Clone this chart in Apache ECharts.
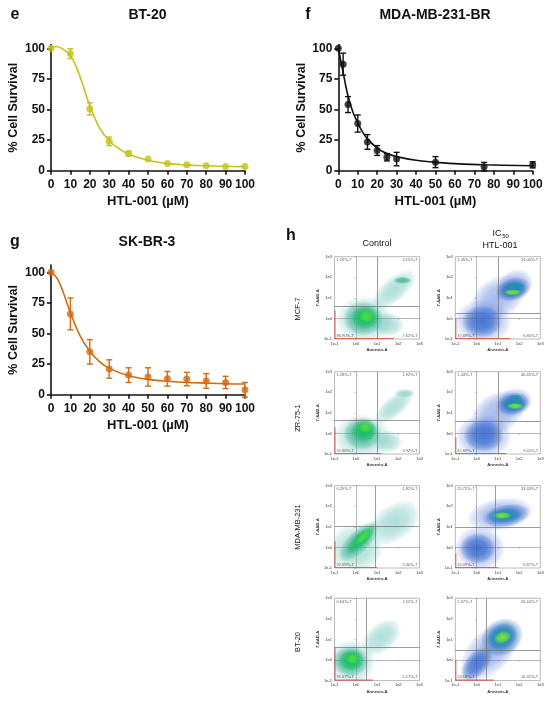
<!DOCTYPE html>
<html>
<head>
<meta charset="utf-8">
<script src="https://cdn.jsdelivr.net/npm/echarts@6/dist/echarts.min.js"></script>
<style>
  html, body { margin: 0; padding: 0; background: #fff; }
  #chart { width: 550px; height: 702px; }
</style>
</head>
<body>
<div id="chart"></div>
<script>
// ---- 细胞存活曲线数据 (e, f, g) ----
const doseBT20 = [0, 10, 20, 30, 40, 50, 60, 70, 80, 90, 100];
const survBT20 = [100, 95.5, 50.5, 24, 14, 9.5, 5.8, 4.8, 4, 3.5, 3.5];
const errBT20 = [0, 4, 5, 3.5, 2, 1, 0.8, 0.5, 0.5, 0.5, 0.5];
const fitDoseBT20 = [0, 3, 6, 10, 13, 16, 20, 25, 30, 35, 40, 50, 60, 70, 80, 90, 100];
const fitBT20 = [100.5, 101.5, 99.5, 94, 85, 72, 53, 35, 24.5, 18, 13.5, 8.5, 5.8, 4.7, 4, 3.6, 3.3];

const doseMDA = [0, 2.5, 5, 10, 15, 20, 25, 30, 50, 75, 100];
const survMDA = [100, 87, 54, 38.5, 23.5, 16.5, 11, 9.5, 7, 3.3, 4.8];
const errMDA = [0, 9, 6.5, 7, 6, 4, 3, 5.5, 4.5, 3.5, 2.5];
const fitDoseMDA = [0, 1.25, 2.5, 3.75, 5, 7.5, 10, 12.5, 15, 20, 25, 30, 40, 50, 60, 75, 100];
const fitMDA = [100, 90, 80, 70, 61, 48, 39, 31.5, 26, 18.5, 14, 11.5, 8.5, 6.8, 5.8, 4.8, 4];

const doseSK = [0, 10, 20, 30, 40, 50, 60, 70, 80, 90, 100];
const survSK = [100, 66, 35, 21, 16, 14.5, 13, 12.8, 11.2, 10, 4];
const errSK = [0, 13, 10, 7.5, 6, 7.5, 6, 5.5, 6, 5, 6];
const fitDoseSK = [0, 3, 6, 10, 15, 20, 25, 30, 40, 50, 60, 70, 80, 90, 100];
const fitSK = [100, 95.5, 85, 67, 48, 35.5, 27, 21.5, 15.5, 12.5, 11, 10, 9.5, 9, 8.8];

const survTicks = [0, 25, 50, 75, 100];

// ---- 流式细胞图数据 (h) ----
const flowRows = ['MCF-7', 'ZR-75-1', 'MDA-MB-231', 'BT-20'];

// 门 [Annexin 门, 7-AAD 门] (log10)
const gatesCtrl = [[1.02, 0.61], [1.0, 0.63], [0.91, 1.03], [0.51, 0.6]];
const gatesIC50 = [[1.0, 0.26], [1.0, 0.6], [0.9, 0.98], [0.47, 0.48]];

// 象限百分比 [左上, 右上, 左下, 右下]
const quadCtrl = [
  ['1.29%-T', '4.15%-T', '86.90%-T', '7.62%-T'],
  ['1.28%-T', '1.92%-T', '92.88%-T', '3.92%-T'],
  ['0.29%-T', '1.82%-T', '92.59%-T', '5.30%-T'],
  ['0.64%-T', '2.52%-T', '91.67%-T', '5.17%-T']
];
const quadIC50 = [
  ['1.45%-T', '54.06%-T', '37.69%-T', '6.80%-T'],
  ['1.44%-T', '46.45%-T', '42.69%-T', '9.42%-T'],
  ['25.72%-T', '33.33%-T', '34.09%-T', '6.87%-T'],
  ['2.07%-T', '56.44%-T', '24.18%-T', '16.31%-T']
];

// 细胞群 [Annexin 中心, 7-AAD 中心, x 跨度, y 跨度, 旋转角, 密度等级] (log10 单位)
const cloudMcf7Ctrl = [
  [0.4, -0.05, 2.7, 2.3, 0, 0], [1.8, 1.4, 2.6, 1.2, 40, 0], [1.5, -0.3, 1.6, 1.2, 0, 0],
  [0.35, 0.0, 1.9, 1.7, 0, 1], [0.45, 0.05, 1.3, 1.15, 0, 2], [0.5, 0.1, 0.7, 0.6, 0, 3],
  [2.2, 1.85, 0.9, 0.35, 0, 1]
];
const cloudMcf7IC50 = [
  [0.3, -0.15, 2.7, 2.2, 0, 0], [1.0, 1.0, 2.8, 2.0, 30, 0], [1.8, 1.6, 1.8, 1.5, 30, 0],
  [0.25, -0.15, 1.9, 1.6, 0, 1], [1.72, 1.42, 1.7, 1.1, 15, 1], [1.75, 1.4, 1.25, 0.75, 10, 2],
  [1.7, 1.27, 0.85, 0.3, 0, 3], [1.85, 1.6, 0.8, 0.3, 0, 2]
];
const cloudZrCtrl = [
  [0.3, -0.15, 2.7, 2.2, 0, 0], [1.8, 1.3, 2.3, 1.0, 40, 0], [1.5, -0.4, 1.4, 1.1, 0, 0],
  [0.3, 0.0, 1.8, 1.6, 0, 1], [0.4, 0.15, 1.2, 1.1, 0, 2], [0.45, 0.3, 0.6, 0.55, 0, 3],
  [2.3, 1.95, 1.0, 0.45, 0, 0]
];
const cloudZrIC50 = [
  [0.33, -0.15, 2.7, 2.2, 0, 0], [1.0, 1.0, 2.8, 2.0, 30, 0], [1.75, 1.5, 1.8, 1.4, 20, 0],
  [0.33, -0.1, 1.9, 1.6, 0, 1], [1.75, 1.45, 1.6, 1.1, 10, 1], [1.78, 1.42, 1.2, 0.75, 5, 2],
  [1.82, 1.33, 0.8, 0.3, 0, 3], [1.82, 1.75, 0.7, 0.3, 0, 2]
];
const cloudMdaCtrl = [
  [0.0, -0.05, 2.6, 2.4, 0, 0], [1.8, 1.2, 2.8, 1.8, 35, 0],
  [0.15, 0.3, 2.5, 1.1, 45, 1], [0.25, 0.4, 1.9, 0.65, 45, 2], [0.35, 0.5, 1.0, 0.32, 45, 3]
];
const cloudMdaIC50 = [
  [0.15, -0.05, 2.4, 2.2, 0, 0], [1.1, 1.6, 3.2, 1.6, 10, 0], [0.05, -0.05, 1.7, 1.5, 0, 1],
  [1.4, 1.55, 2.3, 1.1, 10, 1], [1.3, 1.55, 1.7, 0.7, 5, 2], [1.2, 1.55, 0.9, 0.35, 0, 3]
];
const cloudBt20Ctrl = [
  [-0.2, -0.1, 2.3, 2.2, 0, 0], [1.2, 1.1, 2.2, 1.4, 40, 0], [-0.25, -0.05, 1.7, 1.5, 0, 1],
  [-0.2, 0.0, 1.2, 1.05, 0, 2], [-0.15, 0.05, 0.6, 0.5, 0, 3]
];
const cloudBt20IC50 = [
  [0.6, 0.4, 3.4, 2.1, 45, 0], [1.2, 1.1, 2.1, 1.8, 30, 1], [0.0, -0.2, 2.0, 1.1, 50, 1],
  [1.2, 1.15, 1.5, 1.25, 30, 2], [1.22, 1.1, 0.85, 0.6, 20, 3]
];
const cloudsCtrl = [cloudMcf7Ctrl, cloudZrCtrl, cloudMdaCtrl, cloudBt20Ctrl];
const cloudsIC50 = [cloudMcf7IC50, cloudZrIC50, cloudMdaIC50, cloudBt20IC50];

// 坐标轴边缘堆积事件 [左边缘上限 7-AAD, 下边缘右限 Annexin]
const edgeCtrl = [[0.4, 1.8], [0.3, 1.2], [0.3, 1.0], [0.6, 0.8]];
const edgeIC50 = [[0.0, 1.6], [-0.2, 1.4], [-0.3, 1.0], [0.0, 0.8]];

// ---- 样式 ----
const FONT = "'Liberation Sans', Arial, sans-serif";
const colBT20 = '#c4c21c';
const colMDA = '#111111';
const colSK = '#d4690f';
const paletteCtrl = [[95, 190, 180, 0.5], [40, 172, 130, 0.75], [22, 190, 92, 0.9], [70, 222, 62, 1]];
const paletteIC50 = [[75, 115, 215, 0.5], [40, 95, 200, 0.75], [28, 145, 170, 0.9], [115, 228, 55, 1]];

const rgba = (c, k) => `rgba(${c[0]},${c[1]},${c[2]},${(c[3] * k).toFixed(3)})`;
const zip = (a, b) => a.map((v, i) => [v, b[i]]);

const curveGrids = [
  { left: 51, top: 44.6, width: 194, height: 126.1 },
  { left: 338.3, top: 44.6, width: 194.4, height: 126.1 },
  { left: 51, top: 265, width: 194, height: 129.7 }
];
const curveMax = [103, 103, 106];
const yNameGap = [31, 28, 31];

const flowLeft = [334.5, 455.3];
const flowTop = [256.7, 371.7, 485.7, 598.3];

const grids = [];
const xAxes = [];
const yAxes = [];
const series = [];

// 曲线面板
function addCurvePanel(gi, dose, surv, err, fitDose, fit, color) {
  grids.push(curveGrids[gi]);
  xAxes.push({
    gridIndex: gi, type: 'value', min: 0, max: 100, interval: 10,
    name: 'HTL-001 (µM)', nameLocation: 'middle', nameGap: 24,
    nameTextStyle: { fontFamily: FONT, fontWeight: 'bold', fontSize: 13, color: '#111' },
    axisLine: { lineStyle: { color: '#111', width: 1.6 } },
    axisTick: { length: 4, lineStyle: { color: '#111', width: 1.6 } },
    axisLabel: { fontFamily: FONT, fontWeight: 'bold', fontSize: 12, color: '#111', margin: 8 },
    splitLine: { show: false }
  });
  yAxes.push({
    gridIndex: gi, type: 'value', min: 0, max: curveMax[gi],
    name: '% Cell Survival', nameLocation: 'middle', nameGap: yNameGap[gi],
    nameTextStyle: { fontFamily: FONT, fontWeight: 'bold', fontSize: 12.5, color: '#111' },
    axisLine: { show: true, lineStyle: { color: '#111', width: 1.6 } },
    axisTick: { show: true, length: 4, customValues: survTicks, lineStyle: { color: '#111', width: 1.6 } },
    axisLabel: { fontFamily: FONT, fontWeight: 'bold', fontSize: 12, color: '#111', margin: 6, customValues: survTicks },
    splitLine: { show: false }
  });
  series.push({
    type: 'line', xAxisIndex: gi, yAxisIndex: gi, data: zip(fitDose, fit),
    smooth: 0.35, showSymbol: false, silent: true,
    lineStyle: { color: color, width: 1.6 }, z: 2
  });
  series.push({
    type: 'custom', xAxisIndex: gi, yAxisIndex: gi, silent: true, z: 3,
    data: dose.map((d, i) => [d, surv[i], err[i]]),
    renderItem: (params, api) => {
      const x = api.value(0), y = api.value(1), e = api.value(2);
      if (e < 1.5) return null;
      const t = api.coord([x, y + e]), b = api.coord([x, y - e]);
      const st = { stroke: color, lineWidth: 1.4 };
      return {
        type: 'group', children: [
          { type: 'line', shape: { x1: t[0], y1: t[1], x2: b[0], y2: b[1] }, style: st },
          { type: 'line', shape: { x1: t[0] - 3, y1: t[1], x2: t[0] + 3, y2: t[1] }, style: st },
          { type: 'line', shape: { x1: b[0] - 3, y1: b[1], x2: b[0] + 3, y2: b[1] }, style: st }
        ]
      };
    }
  });
  series.push({
    type: 'scatter', xAxisIndex: gi, yAxisIndex: gi, data: zip(dose, surv),
    symbolSize: 7, itemStyle: { color: color }, silent: true, z: 4
  });
}

addCurvePanel(0, doseBT20, survBT20, errBT20, fitDoseBT20, fitBT20, colBT20);
addCurvePanel(1, doseMDA, survMDA, errMDA, fitDoseMDA, fitMDA, colMDA);
addCurvePanel(2, doseSK, survSK, errSK, fitDoseSK, fitSK, colSK);

// 流式面板
const flowLabel = { fontFamily: FONT, fontSize: 4, color: '#333' };
function addFlowPanel(row, col, cloud, palette, gate, quad, edge) {
  const gi = grids.length;
  grids.push({
    left: flowLeft[col], top: flowTop[row], width: 85, height: 82.3,
    show: true, borderColor: '#8a8a8a', borderWidth: 0.6, backgroundColor: '#fff'
  });
  const axisCommon = {
    gridIndex: gi, type: 'value', min: -1, max: 3, interval: 1,
    nameLocation: 'middle',
    nameTextStyle: { fontFamily: FONT, fontSize: 4.2, fontWeight: 'bold', color: '#333' },
    axisLine: { lineStyle: { color: '#8a8a8a', width: 0.6 } },
    axisTick: { length: 1.5, lineStyle: { color: '#8a8a8a', width: 0.5 } },
    axisLabel: Object.assign({ margin: 2.5, formatter: v => '1e' + v }, flowLabel),
    splitLine: { show: false }
  };
  xAxes.push(Object.assign({ name: 'Annexin-A', nameGap: 9 }, axisCommon));
  yAxes.push(Object.assign({ name: '7-AAD-A', nameGap: 12 }, axisCommon));

  // 单位圆 + 缩放，使径向渐变随椭圆拉伸
  series.push({
    type: 'custom', xAxisIndex: gi, yAxisIndex: gi, clip: true, silent: true, z: 2,
    data: cloud,
    renderItem: (params, api) => {
      const c = api.coord([api.value(0), api.value(1)]);
      const s = api.size([api.value(2), api.value(3)]);
      const p = palette[api.value(5)];
      return {
        type: 'circle', x: c[0], y: c[1],
        rotation: api.value(4) * Math.PI / 180,
        scaleX: s[0] / 20, scaleY: s[1] / 20,
        shape: { cx: 0, cy: 0, r: 10 },
        style: {
          fill: new echarts.graphic.RadialGradient(0.5, 0.5, 0.5, [
            { offset: 0, color: rgba(p, 1) },
            { offset: 0.5, color: rgba(p, 0.8) },
            { offset: 0.8, color: rgba(p, 0.4) },
            { offset: 1, color: rgba(p, 0) }
          ])
        }
      };
    }
  });
  // 边缘堆积
  series.push({
    type: 'custom', xAxisIndex: gi, yAxisIndex: gi, silent: true, z: 3,
    data: [edge],
    renderItem: (params, api) => {
      const o = api.coord([-1, -1]);
      const l = api.coord([-1, api.value(0)]);
      const r = api.coord([api.value(1), -1]);
      const st = { stroke: 'rgba(220,70,60,0.8)', lineWidth: 1.1 };
      return {
        type: 'group', children: [
          { type: 'line', shape: { x1: o[0] + 0.5, y1: o[1], x2: l[0] + 0.5, y2: l[1] }, style: st },
          { type: 'line', shape: { x1: o[0], y1: o[1] - 0.5, x2: r[0], y2: r[1] - 0.5 }, style: st }
        ]
      };
    }
  });
  // 象限标签 + 门线
  const lab = (pos, align, va) => ({ show: true, position: pos, align: align, verticalAlign: va,
    formatter: '{b}', fontFamily: FONT, fontSize: 4, color: '#333' });
  series.push({
    type: 'scatter', xAxisIndex: gi, yAxisIndex: gi, symbolSize: 0, silent: true, z: 5,
    data: [
      { name: quad[0], value: [-1, 3], label: lab([2, 1.5], 'left', 'top') },
      { name: quad[1], value: [3, 3], label: lab([-2, 1.5], 'right', 'top') },
      { name: quad[2], value: [-1, -1], label: lab([2, -1.5], 'left', 'bottom') },
      { name: quad[3], value: [3, -1], label: lab([-2, -1.5], 'right', 'bottom') }
    ],
    markLine: {
      silent: true, symbol: 'none', label: { show: false },
      lineStyle: { color: '#6e6e6e', width: 0.7, type: 'solid' },
      data: [{ xAxis: gate[0] }, { yAxis: gate[1] }]
    }
  });
}

flowRows.forEach((name, r) => {
  addFlowPanel(r, 0, cloudsCtrl[r], paletteCtrl, gatesCtrl[r], quadCtrl[r], edgeCtrl[r]);
  addFlowPanel(r, 1, cloudsIC50[r], paletteIC50, gatesIC50[r], quadIC50[r], edgeIC50[r]);
});

// 文字
const txt = (x, y, text, size, weight, extra) => Object.assign({
  type: 'text', x: x, y: y, silent: true,
  style: { text: text, fontFamily: FONT, fontSize: size, fontWeight: weight || 'normal',
    fill: '#111', align: 'center', verticalAlign: 'middle' }
}, extra || {});
const rowLabelY = [309, 418, 527, 642];
const graphics = [
  txt(15, 15, 'e', 16, 'bold'), txt(147.5, 15.5, 'BT-20', 14, 'bold'),
  txt(308, 15, 'f', 16, 'bold'), txt(435, 15.5, 'MDA-MB-231-BR', 14, 'bold'),
  txt(15, 242, 'g', 16, 'bold'), txt(147, 242, 'SK-BR-3', 14, 'bold'),
  txt(291, 236, 'h', 16, 'bold'),
  txt(377, 244, 'Control', 9),
  txt(497, 234, 'IC', 9), txt(505.5, 236.5, '50', 6),
  txt(500, 245.5, 'HTL-001', 9)
];
flowRows.forEach((name, r) => {
  graphics.push(txt(298, rowLabelY[r], name, 7.5, 'normal', { rotation: Math.PI / 2 }));
});

const chart = echarts.init(document.getElementById('chart'));
chart.setOption({
  animation: false,
  backgroundColor: '#fff',
  grid: grids,
  xAxis: xAxes,
  yAxis: yAxes,
  series: series,
  graphic: graphics
});
</script>
</body>
</html>
